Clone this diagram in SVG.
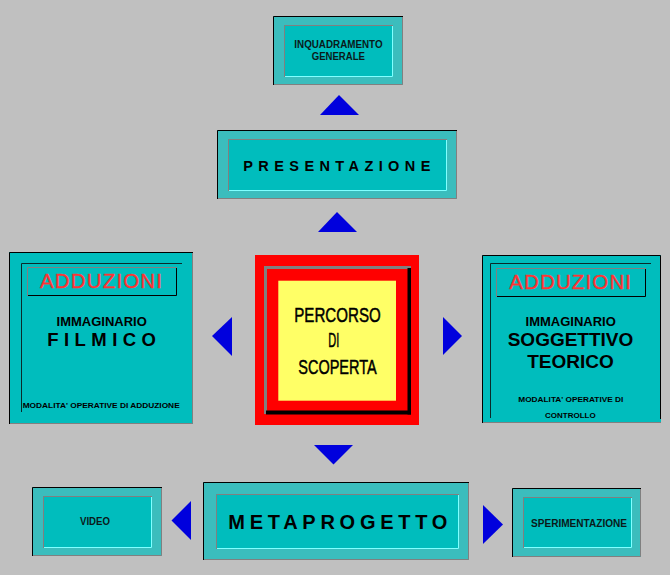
<svg xmlns="http://www.w3.org/2000/svg" width="670" height="575" viewBox="0 0 670 575">
<style>
.bg{fill:#c0c0c0}
.outer{fill:#3bbdbd}
.inner{fill:#00bdbd}
.blk{fill:none;stroke:#000;stroke-width:1}
.gry{fill:none;stroke:#808080;stroke-width:1}
.lt{fill:none;stroke:#80ffff;stroke-width:1}
.dk{fill:none;stroke:#0a2a2a;stroke-width:1}
.arrow{fill:#0000dd}
text{font-family:"Liberation Sans",Arial,sans-serif;fill:#000}
.sm{font-size:10.5px;font-weight:bold;fill:#0a1a1a}
.big{font-size:14.5px;font-weight:bold}
.red{font-size:20.5px;fill:#ff3333;stroke:#ff3333;stroke-width:0.35}
.mid{font-size:13px;font-weight:bold}
.lg{font-size:18.5px;font-weight:bold}
.tiny{font-size:7.5px;font-weight:bold}
.ctr{font-family:"Liberation Sans Narrow","Liberation Sans",Arial,sans-serif;font-size:21px;fill:#000;stroke:#000;stroke-width:0.5}
</style>
<rect class="bg" x="0" y="0" width="670" height="575"/>

<g id="connectors">
<polygon class="arrow" points="339,95 320,115 359,115"/>
<polygon class="arrow" points="337,212 318,232 357,232"/>
<polygon class="arrow" points="212,336 232,317 232,356"/>
<polygon class="arrow" points="462,336 443,317 443,355"/>
<polygon class="arrow" points="314,445 353,445 333.5,464.5"/>
<polygon class="arrow" points="171.5,520.5 191,501 191,540"/>
<polygon class="arrow" points="503,524.5 483,505 483,544"/>
</g>

<g id="inquadramento">
<rect class="outer" x="273" y="16" width="130" height="69"/>
<polyline class="blk" points="273.5,85 273.5,16.5 403,16.5"/>
<polyline class="gry" points="274,84.5 402.5,84.5 402.5,17"/>
<rect class="inner" x="284" y="25" width="109" height="52"/>
<polyline class="gry" points="284.5,77 284.5,25.5 393,25.5"/>
<polyline class="lt" points="285,76.5 392.5,76.5 392.5,26"/>
<text class="sm" x="294.3" y="47.5" textLength="88.3" lengthAdjust="spacingAndGlyphs">INQUADRAMENTO</text>
<text class="sm" x="311.7" y="60" textLength="53.3" lengthAdjust="spacingAndGlyphs">GENERALE</text>
</g>

<g id="presentazione">
<rect class="outer" x="217" y="130" width="240" height="69"/>
<polyline class="blk" points="217.5,199 217.5,130.5 457,130.5"/>
<polyline class="gry" points="218,198.5 456.5,198.5 456.5,131"/>
<rect class="inner" x="228" y="139" width="219" height="52"/>
<polyline class="gry" points="228.5,191 228.5,139.5 447,139.5"/>
<polyline class="lt" points="229,190.5 446.5,190.5 446.5,140"/>
<text class="big" x="243.3" y="170.5" textLength="187" lengthAdjust="spacing">PRESENTAZIONE</text>
</g>

<g id="filmico">
<rect class="inner" x="9" y="252" width="184" height="172"/>
<polyline class="blk" points="9.5,424 9.5,252.5 193,252.5"/>
<polyline class="gry" points="10,423.5 192.5,423.5 192.5,253"/>
<polyline class="dk" points="21.5,412 21.5,263.5 182,263.5"/>
<polyline class="gry" points="27.5,296 27.5,267.5 177,267.5"/>
<polyline class="blk" points="28,295.5 176.5,295.5 176.5,268"/>
<text class="red" x="40" y="287.5" textLength="122" lengthAdjust="spacing">ADDUZIONI</text>
<text class="mid" x="101.7" y="325.7" text-anchor="middle">IMMAGINARIO</text>
<text class="lg" x="47.3" y="346" textLength="108.7" lengthAdjust="spacing">FILMICO</text>
<text class="tiny" x="22.7" y="407.7" textLength="157" lengthAdjust="spacingAndGlyphs">MODALITA' OPERATIVE DI ADDUZIONE</text>
</g>

<g id="percorso">
<rect x="255" y="255" width="164" height="170" fill="#ff0000"/>
<rect x="264" y="266" width="147" height="3" fill="#808080"/>
<rect x="264" y="266" width="3" height="148" fill="#808080"/>
<rect x="407.5" y="268" width="3.5" height="146.5" fill="#000"/>
<rect x="266" y="410.5" width="145" height="4" fill="#000"/>
<rect x="278.3" y="280.7" width="117.7" height="120" fill="#ffff66"/>
<text class="ctr" x="294.3" y="321.7" textLength="86.4" lengthAdjust="spacingAndGlyphs">PERCORSO</text>
<text class="ctr" x="328.3" y="346.7" textLength="11" lengthAdjust="spacingAndGlyphs">DI</text>
<text class="ctr" x="298.3" y="374" textLength="78.4" lengthAdjust="spacingAndGlyphs">SCOPERTA</text>
</g>

<g id="soggettivo">
<rect class="inner" x="482" y="255" width="179" height="168"/>
<polyline class="blk" points="482.5,423 482.5,255.5 660.5,255.5 660.5,419"/>
<polyline class="gry" points="483,422.5 661,422.5"/>
<polyline class="dk" points="490.5,418 490.5,263.5 651,263.5"/>
<polyline class="gry" points="496.5,297 496.5,268.5 646,268.5"/>
<polyline class="blk" points="497,296.5 645.5,296.5 645.5,269"/>
<text class="red" x="509.3" y="289" textLength="121.7" lengthAdjust="spacing">ADDUZIONI</text>
<text class="mid" x="570.7" y="325.7" text-anchor="middle">IMMAGINARIO</text>
<text class="lg" x="570.5" y="346" text-anchor="middle" style="font-size:19px">SOGGETTIVO</text>
<text class="lg" x="570.5" y="368.3" text-anchor="middle" style="font-size:19px">TEORICO</text>
<text class="tiny" x="518.3" y="401.7" textLength="105" lengthAdjust="spacingAndGlyphs">MODALITA' OPERATIVE DI</text>
<text class="tiny" x="545" y="417.7" textLength="50.7" lengthAdjust="spacingAndGlyphs">CONTROLLO</text>
</g>

<g id="video">
<rect class="outer" x="32" y="487" width="130" height="69"/>
<polyline class="blk" points="32.5,556 32.5,487.5 162,487.5"/>
<polyline class="gry" points="33,555.5 161.5,555.5 161.5,488"/>
<rect class="inner" x="43" y="496" width="109" height="52"/>
<polyline class="gry" points="43.5,548 43.5,496.5 152,496.5"/>
<polyline class="lt" points="44,547.5 151.5,547.5 151.5,497"/>
<text class="sm" x="80" y="524.5" textLength="30" lengthAdjust="spacingAndGlyphs">VIDEO</text>
</g>

<g id="metaprogetto">
<rect class="outer" x="203" y="482" width="266" height="78"/>
<polyline class="blk" points="203.5,560 203.5,482.5 469,482.5"/>
<polyline class="gry" points="204,559.5 468.5,559.5 468.5,483"/>
<rect class="inner" x="216" y="494" width="243" height="55"/>
<polyline class="gry" points="216.5,549 216.5,494.5 459,494.5"/>
<polyline class="lt" points="217,548.5 458.5,548.5 458.5,495"/>
<text class="lg" x="228.3" y="529" textLength="219" lengthAdjust="spacing" style="font-size:20px">METAPROGETTO</text>
</g>

<g id="sperimentazione">
<rect class="outer" x="512" y="488" width="129" height="69"/>
<polyline class="blk" points="512.5,557 512.5,488.5 641,488.5"/>
<polyline class="gry" points="513,556.5 640.5,556.5 640.5,489"/>
<rect class="inner" x="523" y="497" width="109" height="51"/>
<polyline class="gry" points="523.5,548 523.5,497.5 632,497.5"/>
<polyline class="lt" points="524,547.5 631.5,547.5 631.5,498"/>
<text class="sm" x="531" y="527" textLength="96" lengthAdjust="spacingAndGlyphs">SPERIMENTAZIONE</text>
</g>
</svg>
